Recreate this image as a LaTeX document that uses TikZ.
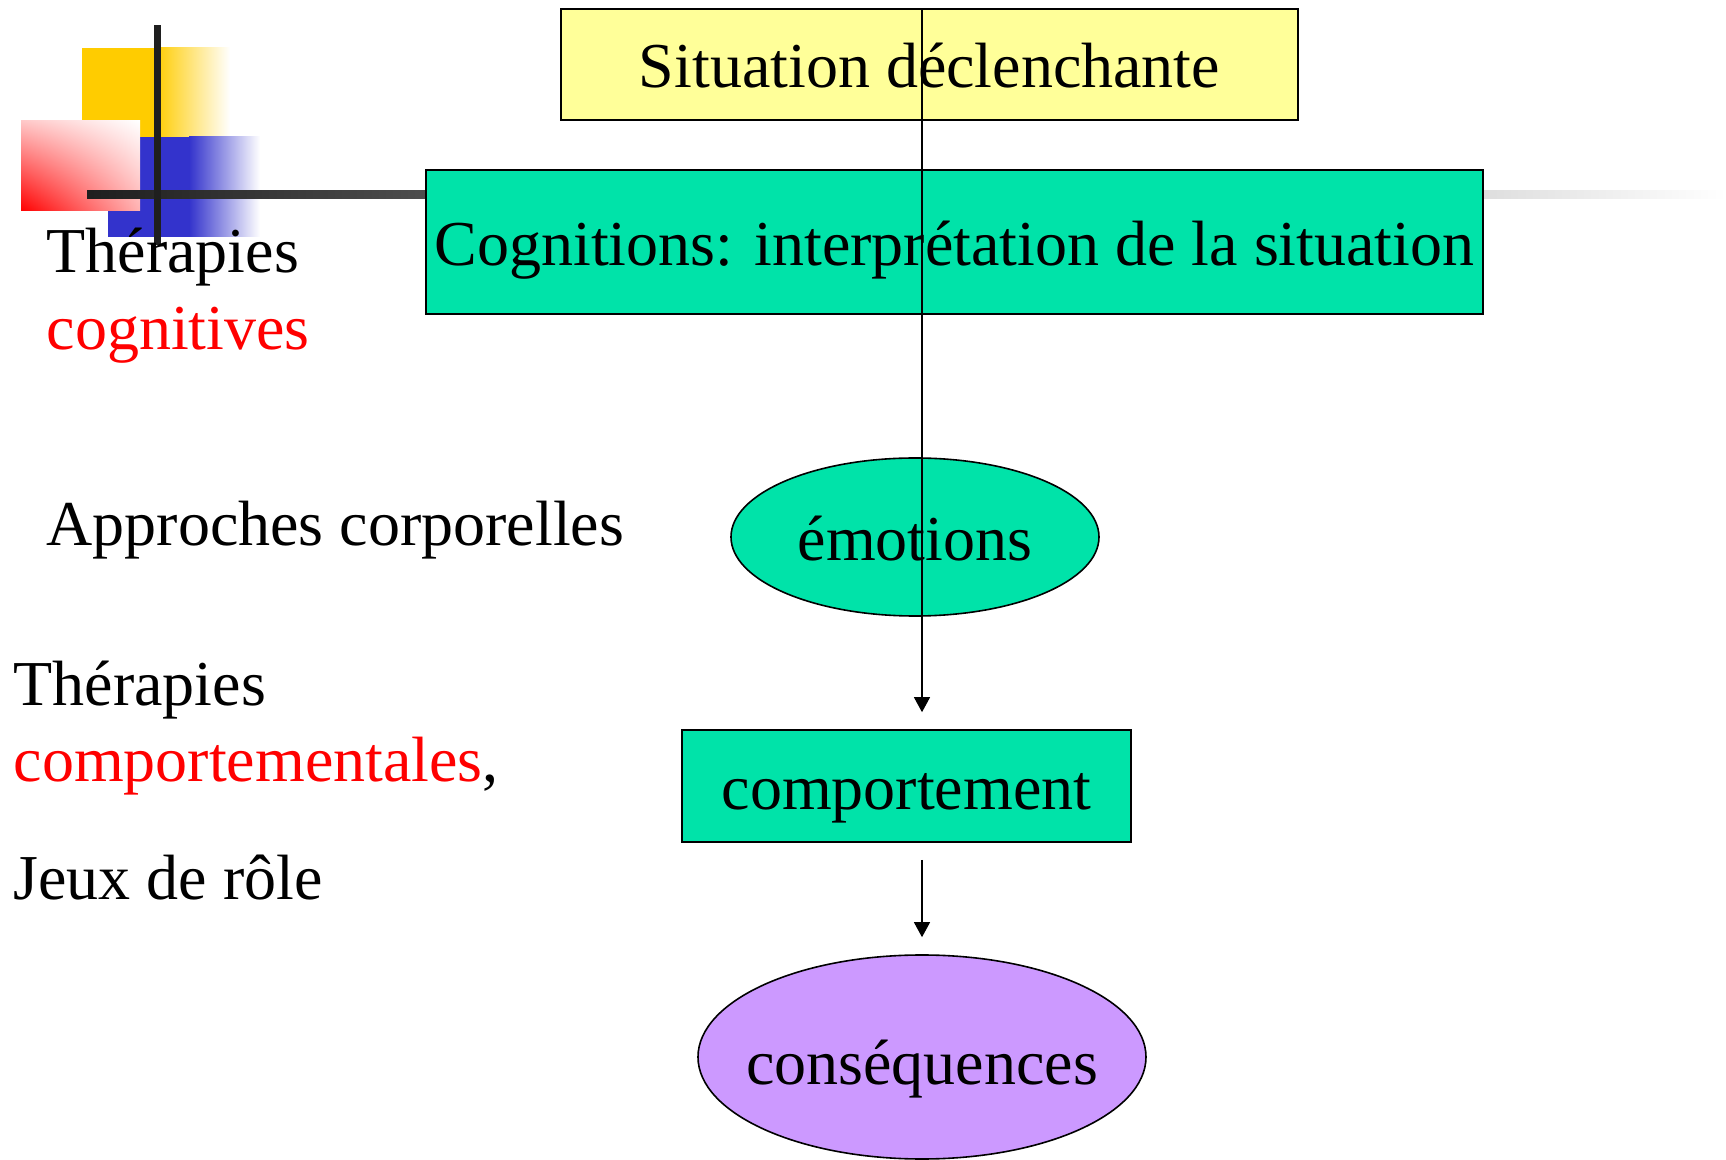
\documentclass[tikz,border=0pt]{standalone}
\usepackage{fontspec}
\setmainfont{Liberation Serif}
\usepackage{tikz}
\usetikzlibrary{arrows.meta, shadings, shapes.geometric}

\definecolor{situcolor}{HTML}{FFFF99}
\definecolor{cogncolor}{HTML}{00E3A9}
\definecolor{conscolor}{HTML}{CC99FF}
\definecolor{decoyellow}{HTML}{FFCC00}
\definecolor{decoblue}{HTML}{3333CC}

\begin{document}
\begin{tikzpicture}[x=0.5pt, y=-0.5pt, >={Triangle[length=7.5pt,width=8pt]}, semithick,
  every node/.style={font=\fontsize{32}{38.5}\selectfont}]
			\tikzstyle{box}=[draw, rectangle, line width=0.8pt, inner sep=2pt, text height=23.5pt, text depth=0pt]
			\tikzstyle{blob}=[draw, ellipse, line width=0.8pt, inner sep=0pt, text height=24pt, text depth=0pt]
			\tikzstyle{side}=[align=left, anchor=base west, inner sep=0pt]
			\useasboundingbox (0,0) rectangle (1726,1160);
			
			% decoration en haut a gauche
			\fill[decoyellow] (82,48) rectangle (156,137);
			\shade[left color=decoyellow, right color=white] (155,48) rectangle (230,137);
			\fill[decoblue] (108,137) rectangle (190,237);
			\shade[left color=decoblue, right color=white] (189,137) rectangle (260,237);
			\shade[lower left=red, upper right=white, upper left=red!22, lower right=red!30] (21,121) rectangle (140,211);
			\shade[left color=black!88, right color=white] (87,191) rectangle (1726,199);
			\fill[black!88] (154,25) rectangle (161,245);
			
			\node[box, fill=situcolor, minimum width=368.5pt, minimum height=55.5pt] (sit) at (929.5,64.5) {Situation déclenchante};
			\node[box, fill=cogncolor, minimum width=528.5pt, minimum height=72pt] (cogn) at (954.5,242) {Cognitions: interprétation de la situation};
			\node[blob, fill=cogncolor, minimum width=184pt, minimum height=79pt] (emo) at (915,537) {émotions};
			\node[box, fill=cogncolor, minimum width=224.5pt, minimum height=56pt] (comp) at (906.5,786) {comportement};
			\node[blob, fill=conscolor, minimum width=224pt, minimum height=102pt, inner xsep=-9pt, text height=27pt] (cons) at (922,1057) {conséquences};
			
			\node[side] (thcog) at (46,350) {Thérapies\\\textcolor{red}{cognitives}};
			\node[side] (corps) at (46,546) {Approches corporelles};
			\node[side] (thcomp) at (13,782) {Thérapies\\\textcolor{red}{comportementales},};
			\node[side] (jeux) at (13,899) {Jeux de rôle};
			
			\draw[->, shorten >=8.5pt] (sit.north -| cons) -- (comp.north -| cons);
			\draw[->, shorten <=8.5pt, shorten >=8.5pt] (comp.south -| cons) -- (cons.north);
		\end{tikzpicture}
\end{document}
